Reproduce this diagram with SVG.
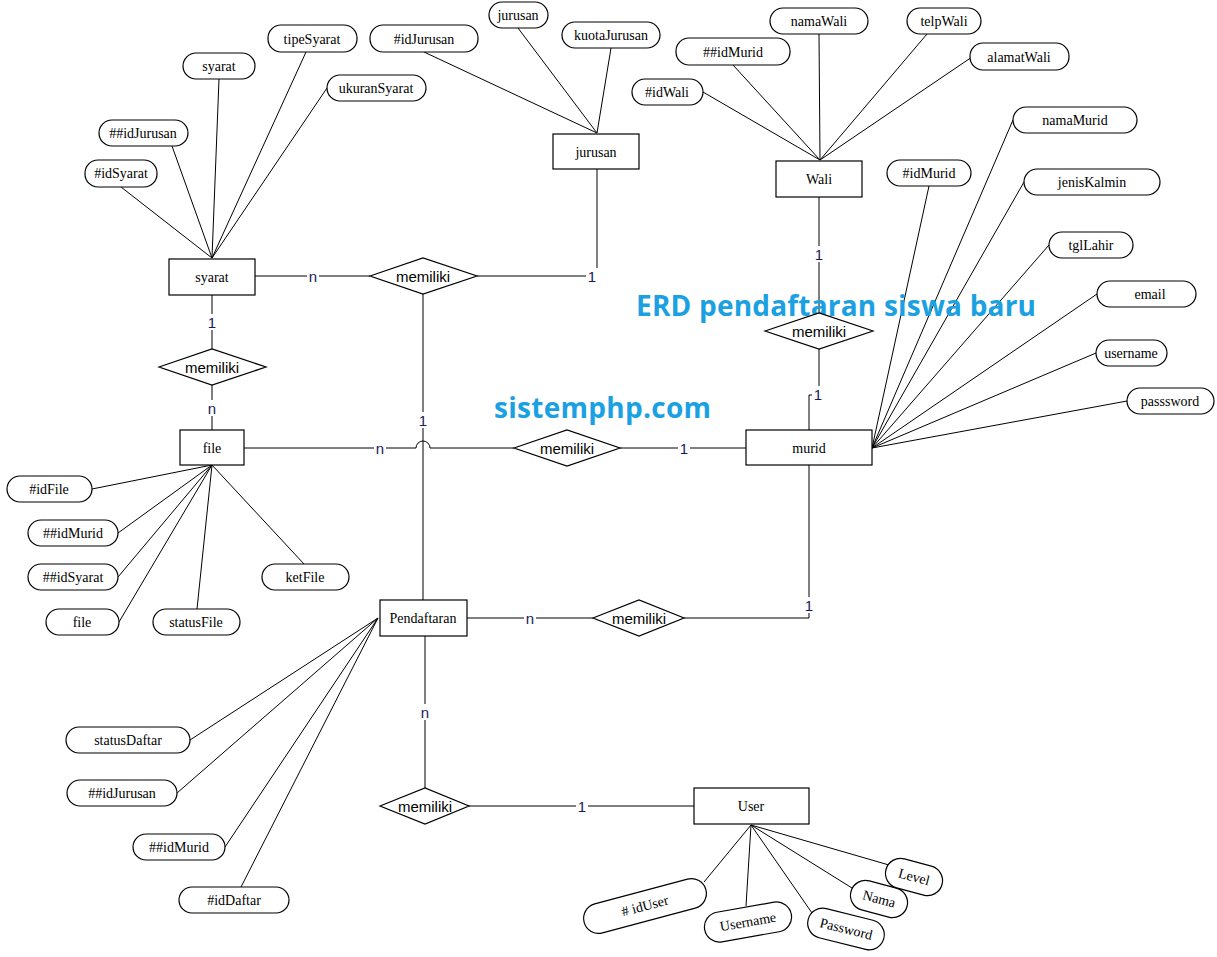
<svg xmlns="http://www.w3.org/2000/svg" width="1217" height="957" viewBox="0 0 1217 957">
<style>
.e{fill:#fff;stroke:#000;stroke-width:1.2}
.a{fill:#fff;stroke:#000;stroke-width:1.2}
.l{stroke:#000;stroke-width:1;fill:none}
.t{font-family:"Liberation Serif",serif;font-size:14px;text-anchor:middle;dominant-baseline:central}
.s{font-family:"Liberation Sans",sans-serif;font-size:15px;text-anchor:middle;dominant-baseline:central}
.c{font-family:"Liberation Sans",sans-serif;font-size:15px;text-anchor:middle;dominant-baseline:central;fill:#1a1a5a}
.h{font-family:"Open Sans","Liberation Sans",sans-serif;font-weight:bold;fill:#1ba1e2;font-size:28px}
</style>
<rect width="1217" height="957" fill="#fff"/>
<g id="connectors">
<path class="l" d="M212 258L121 187M212 258L172 146M212 258L219 79M212 258L306 52M212 258L327 88"/>
<path class="l" d="M597 133L424 52M597 133L518 28M597 133L611 48"/>
<path class="l" d="M820 160L703 92M820 160L733 65M820 160L819 34M820 160L927 34M820 160L972 57"/>
<path class="l" d="M872 448L929 186M872 448L1013 120M872 448L1024 182M872 448L1049 245M872 448L1097 294M872 448L1096 353M872 448L1127 401"/>
<path class="l" d="M212 465L92 489M212 465L118 533M212 465L118 577M212 465L119 622M212 465L197 609M212 465L304 564"/>
<path class="l" d="M378 618L190 740M378 618L177 793M378 618L225 847M378 618L241 887"/>
<path class="l" d="M751 825L704 882M751 825L746 906M751 825L812 913M751 825L852 888M751 825L889 865"/>
<path class="l" d="M255 276H370M477 276H597V169"/>
<path class="l" d="M423 294V600"/>
<path class="l" d="M212 295V349M212 385V430"/>
<path class="l" d="M244 448H416A7 7 0 0 1 430 448H514M620 448H746"/>
<path class="l" d="M819 197V313M819 349V395H809V430"/>
<path class="l" d="M809 465V618H684M467 618H593M425 636V788M469 806H694"/>
<g class="c">
<rect x="307" y="268" width="12" height="16" fill="#fff"/><text x="313" y="276">n</text>
<rect x="586" y="268" width="12" height="16" fill="#fff"/><text x="592" y="276">1</text>
<rect x="206" y="314" width="12" height="16" fill="#fff"/><text x="212" y="322">1</text>
<rect x="206" y="400" width="12" height="16" fill="#fff"/><text x="212" y="408">n</text>
<rect x="417" y="412" width="12" height="16" fill="#fff"/><text x="423" y="420">1</text>
<rect x="374" y="440" width="12" height="16" fill="#fff"/><text x="380" y="448">n</text>
<rect x="678" y="440" width="12" height="16" fill="#fff"/><text x="684" y="448">1</text>
<rect x="813" y="246" width="12" height="16" fill="#fff"/><text x="819" y="254">1</text>
<rect x="812" y="386" width="12" height="16" fill="#fff"/><text x="818" y="394">1</text>
<rect x="803" y="597" width="12" height="16" fill="#fff"/><text x="809" y="605">1</text>
<rect x="524" y="610" width="12" height="16" fill="#fff"/><text x="530" y="618">n</text>
<rect x="419" y="704" width="12" height="16" fill="#fff"/><text x="425" y="712">n</text>
<rect x="576" y="798" width="12" height="16" fill="#fff"/><text x="582" y="806">1</text>
</g>
</g>
<text class="h" x="636" y="316" textLength="400">ERD pendaftaran siswa baru</text>
<text class="h" x="494" y="418" textLength="217">sistemphp.com</text>
<g id="syarat"><rect class="e" x="169" y="259" width="86" height="36"/><text class="t" x="212" y="277">syarat</text></g>
<g id="jurusan"><rect class="e" x="553" y="134" width="86" height="35"/><text class="t" x="596" y="152">jurusan</text></g>
<g id="wali"><rect class="e" x="776" y="161" width="86" height="36"/><text class="t" x="819" y="179">Wali</text></g>
<g id="murid"><rect class="e" x="746" y="430" width="126" height="35"/><text class="t" x="809" y="448">murid</text></g>
<g id="file"><rect class="e" x="180" y="430" width="64" height="35"/><text class="t" x="212" y="448">file</text></g>
<g id="pendaftaran"><rect class="e" x="380" y="600" width="87" height="36"/><text class="t" x="423" y="618">Pendaftaran</text></g>
<g id="user"><rect class="e" x="694" y="788" width="115" height="36"/><text class="t" x="751" y="806">User</text></g>
<g id="rel1"><polygon class="e" points="370,276 423,258 477,276 423,294"/><text class="s" x="423" y="276">memiliki</text></g>
<g id="rel2"><polygon class="e" points="159,367 212,349 266,367 212,385"/><text class="s" x="212" y="367">memiliki</text></g>
<g id="rel3"><polygon class="e" points="765,331 819,313 873,331 819,349"/><text class="s" x="819" y="331">memiliki</text></g>
<g id="rel4"><polygon class="e" points="514,448 567,430 620,448 567,466"/><text class="s" x="567" y="448">memiliki</text></g>
<g id="rel5"><polygon class="e" points="593,618 639,600 684,618 639,636"/><text class="s" x="639" y="618">memiliki</text></g>
<g id="rel6"><polygon class="e" points="380,806 425,788 469,806 425,824"/><text class="s" x="425" y="806">memiliki</text></g>
<g id="attr-syarat">
<rect class="a" x="183" y="53" width="72" height="26" rx="13"/><text class="t" x="219" y="66">syarat</text>
<rect class="a" x="268" y="25" width="89" height="27" rx="13"/><text class="t" x="312" y="39">tipeSyarat</text>
<rect class="a" x="327" y="75" width="99" height="26" rx="13"/><text class="t" x="376" y="88">ukuranSyarat</text>
<rect class="a" x="99" y="120" width="89" height="26" rx="13"/><text class="t" x="143" y="133">##idJurusan</text>
<rect class="a" x="85" y="160" width="72" height="27" rx="13"/><text class="t" x="121" y="173">#idSyarat</text>
</g>
<g id="attr-jurusan">
<rect class="a" x="370" y="25" width="108" height="27" rx="13"/><text class="t" x="424" y="39">#idJurusan</text>
<rect class="a" x="489" y="2" width="59" height="26" rx="13"/><text class="t" x="518" y="15">jurusan</text>
<rect class="a" x="562" y="22" width="98" height="26" rx="13"/><text class="t" x="611" y="35">kuotaJurusan</text>
</g>
<g id="attr-wali">
<rect class="a" x="676" y="38" width="114" height="27" rx="13"/><text class="t" x="733" y="52">##idMurid</text>
<rect class="a" x="770" y="8" width="98" height="26" rx="13"/><text class="t" x="819" y="21">namaWali</text>
<rect class="a" x="907" y="8" width="74" height="26" rx="13"/><text class="t" x="944" y="21">telpWali</text>
<rect class="a" x="970" y="43" width="99" height="27" rx="13"/><text class="t" x="1019" y="57">alamatWali</text>
<rect class="a" x="632" y="79" width="71" height="26" rx="13"/><text class="t" x="667" y="92">#idWali</text>
</g>
<g id="attr-murid">
<rect class="a" x="887" y="160" width="84" height="26" rx="13"/><text class="t" x="929" y="173">#idMurid</text>
<rect class="a" x="1013" y="107" width="124" height="26" rx="13"/><text class="t" x="1075" y="120">namaMurid</text>
<rect class="a" x="1024" y="169" width="136" height="26" rx="13"/><text class="t" x="1092" y="182">jenisKalmin</text>
<rect class="a" x="1049" y="232" width="84" height="26" rx="13"/><text class="t" x="1091" y="245">tglLahir</text>
<rect class="a" x="1097" y="281" width="99" height="26" rx="13"/><text class="t" x="1150" y="294">email</text>
<rect class="a" x="1096" y="340" width="71" height="26" rx="13"/><text class="t" x="1131" y="353">username</text>
<rect class="a" x="1127" y="388" width="87" height="26" rx="13"/><text class="t" x="1170" y="401">passsword</text>
</g>
<g id="attr-file">
<rect class="a" x="7" y="476" width="85" height="26" rx="13"/><text class="t" x="49" y="489">#idFile</text>
<rect class="a" x="28" y="520" width="90" height="26" rx="13"/><text class="t" x="73" y="533">##idMurid</text>
<rect class="a" x="28" y="564" width="90" height="26" rx="13"/><text class="t" x="73" y="577">##idSyarat</text>
<rect class="a" x="46" y="609" width="73" height="26" rx="13"/><text class="t" x="82" y="622">file</text>
<rect class="a" x="153" y="609" width="87" height="26" rx="13"/><text class="t" x="196" y="622">statusFile</text>
<rect class="a" x="262" y="564" width="87" height="26" rx="13"/><text class="t" x="305" y="577">ketFile</text>
</g>
<g id="attr-pendaftaran">
<rect class="a" x="66" y="727" width="124" height="26" rx="13"/><text class="t" x="128" y="740">statusDaftar</text>
<rect class="a" x="67" y="780" width="110" height="26" rx="13"/><text class="t" x="122" y="793">##idJurusan</text>
<rect class="a" x="133" y="834" width="92" height="26" rx="13"/><text class="t" x="179" y="847">##idMurid</text>
<rect class="a" x="179" y="887" width="110" height="26" rx="13"/><text class="t" x="234" y="900">#idDaftar</text>
</g>
<g id="attr-user">
<g transform="translate(645,906) rotate(-15)"><rect class="a" x="-63" y="-15" width="126" height="30" rx="15"/><text class="t" x="0" y="0">#  idUser</text></g>
<g transform="translate(748,922) rotate(-10)"><rect class="a" x="-44" y="-15" width="88" height="30" rx="15"/><text class="t" x="0" y="0">Username</text></g>
<g transform="translate(846,929) rotate(14)"><rect class="a" x="-39" y="-15" width="78" height="30" rx="15"/><text class="t" x="0" y="0">Password</text></g>
<g transform="translate(879,899) rotate(15)"><rect class="a" x="-29" y="-15" width="58" height="30" rx="15"/><text class="t" x="0" y="0">Nama</text></g>
<g transform="translate(914,877) rotate(15)"><rect class="a" x="-29" y="-15" width="58" height="30" rx="15"/><text class="t" x="0" y="0">Level</text></g>
</g>
</svg>
